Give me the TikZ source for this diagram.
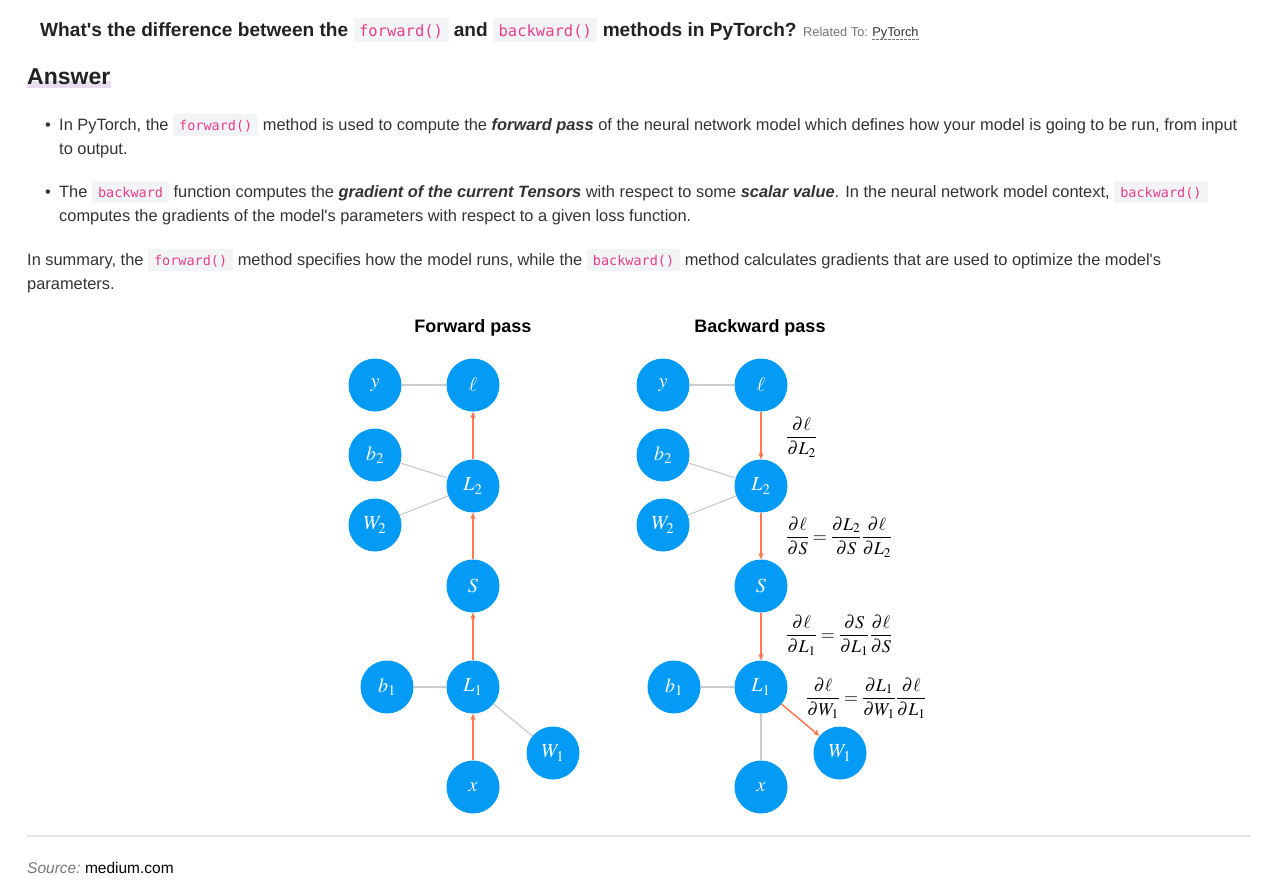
\documentclass[tikz,border=0pt]{standalone}
\usepackage{mathptmx}
\usepackage[no-math]{fontspec}
\setmainfont{Liberation Sans}
\newfontfamily\codefont{DejaVu Sans Mono}
\usetikzlibrary{arrows.meta}
\definecolor{codebg}{HTML}{F2F4F5}
\definecolor{codepink}{HTML}{E83E8C}
\definecolor{textc}{HTML}{333333}
\definecolor{titlec}{HTML}{222222}
\definecolor{relgray}{HTML}{777777}
\definecolor{nodeblue}{RGB}{3,155,245}
\definecolor{arrowc}{RGB}{255,122,82}
\definecolor{edgegray}{HTML}{CCCCCC}
\definecolor{sepgray}{HTML}{E4E4E4}
\definecolor{ansline}{HTML}{E9DCEF}
\newcommand\code[1]{{\setlength\fboxsep{0pt}\colorbox{codebg}{\rule[-5.5pt]{0pt}{22pt}\hspace{6pt}{\codefont\fontsize{13.5}{13.5}\selectfont\color{codepink}#1}\hspace{6pt}}}}
\newcommand\tcode[1]{{\setlength\fboxsep{0pt}\colorbox{codebg}{\rule[-6pt]{0pt}{24pt}\hspace{5.5pt}{\codefont\fontsize{15.5}{15.5}\selectfont\mdseries\color{codepink}#1}\hspace{5.5pt}}}}
\newcommand\bi[1]{\textbf{\textit{#1}}}
\begin{document}
\begin{tikzpicture}[x=1pt,y=-1pt,
  txt/.style={anchor=base west, inner sep=0pt, text=textc, font=\fontsize{16.4}{19}\selectfont},
  nd/.style={circle, fill=nodeblue, minimum size=53pt, inner sep=0pt, text=white, font=\fontsize{20}{20}\selectfont},
  link/.style={draw=edgegray, line width=1.2pt},
  flow/.style={draw=arrowc, line width=1.5pt, -{Stealth[length=6.5pt,width=5.5pt]}},
  eq/.style={anchor=west, inner sep=0pt, font=\fontsize{18}{18}\selectfont},
  ptitle/.style={anchor=base, inner sep=0pt, font=\fontsize{18}{18}\selectfont\bfseries, text=black}]
\useasboundingbox (0,0) rectangle (1278,892);
\fill[white] (0,0) rectangle (1278,892);

% heading
\node[anchor=base west, inner sep=0pt, text=titlec, font=\fontsize{19.1}{22}\selectfont\bfseries] (title) at (40,36)
  {What\textquotesingle s the difference between the \tcode{forward()} and \tcode{backward()} methods in PyTorch?};
\node[anchor=base west, inner sep=0pt, text=relgray, font=\fontsize{12.8}{14}\selectfont] (rel) at (803,36) {Related To:};
\node[anchor=base west, inner sep=0pt, text=textc, font=\fontsize{12.8}{14}\selectfont] (pyt) at ([xshift=4pt]rel.base east) {PyTorch};
\draw[relgray, dashed, dash pattern=on 2.5pt off 1.5pt, line width=0.8pt] ([yshift=-3.5pt]pyt.base west) -- ([yshift=-3.5pt]pyt.base east);

\fill[ansline] (27,81) rectangle (111,88);
\node[anchor=base west, inner sep=0pt, text=titlec, font=\fontsize{23}{26}\selectfont\bfseries] (answer) at (27,84) {Answer};

% bullets
\node[txt, anchor=base] (bul1) at (48,130) {•};
\node[txt] (p1a) at (59,130) {In PyTorch, the \code{forward()} method is used to compute the \bi{forward pass} of the neural network model which defines how your model is going to be run, from input};
\node[txt] (p1b) at (59,154) {to output.};
\node[txt, anchor=base] (bul2) at (48,197) {•};
\node[txt] (p2a) at (59,197) {The \code{backward} function computes the \bi{gradient of the current Tensors} with respect to some \bi{scalar value}. In the neural network model context, \code{backward()}};
\node[txt] (p2b) at (59,221) {computes the gradients of the model\textquotesingle s parameters with respect to a given loss function.};
\node[txt] (p3a) at (27,265) {In summary, the \code{forward()} method specifies how the model runs, while the \code{backward()} method calculates gradients that are used to optimize the model\textquotesingle s};
\node[txt] (p3b) at (27,289) {parameters.};

% diagram titles
\node[ptitle] (ftitle) at (473,332) {Forward pass};
\node[ptitle] (btitle) at (760,332) {Backward pass};

% forward pass nodes
\node[nd] (fy) at (375,385) {$y$};
\node[nd] (fl) at (473,385) {$\ell$};
\node[nd] (fb2) at (375,455) {$b_2$};
\node[nd] (fL2) at (473,486) {$L_2$};
\node[nd] (fW2) at (375,525) {$W_2$};
\node[nd] (fS) at (473,586) {$S$};
\node[nd] (fb1) at (387,687) {$b_1$};
\node[nd] (fL1) at (473,687) {$L_1$};
\node[nd] (fW1) at (553,753) {$W_1$};
\node[nd] (fx) at (473,787) {$x$};

\draw[link] (fy) -- (fl);
\draw[link] (fb2) -- (fL2);
\draw[link] (fW2) -- (fL2);
\draw[link] (fb1) -- (fL1);
\draw[link] (fL1) -- (fW1);
\draw[flow] (fL2) -- (fl);
\draw[flow] (fS) -- (fL2);
\draw[flow] (fL1) -- (fS);
\draw[flow] (fx) -- (fL1);

% backward pass nodes
\node[nd] (by) at (663,385) {$y$};
\node[nd] (bl) at (761,385) {$\ell$};
\node[nd] (bb2) at (663,455) {$b_2$};
\node[nd] (bL2) at (761,486) {$L_2$};
\node[nd] (bW2) at (663,525) {$W_2$};
\node[nd] (bS) at (761,586) {$S$};
\node[nd] (bb1) at (674,687) {$b_1$};
\node[nd] (bL1) at (761,687) {$L_1$};
\node[nd] (bW1) at (840,753) {$W_1$};
\node[nd] (bx) at (761,787) {$x$};

\draw[link] (by) -- (bl);
\draw[link] (bb2) -- (bL2);
\draw[link] (bW2) -- (bL2);
\draw[link] (bb1) -- (bL1);
\draw[link] (bL1) -- (bx);
\draw[flow] (bl) -- (bL2);
\draw[flow] (bL2) -- (bS);
\draw[flow] (bS) -- (bL1);
\draw[flow] (bL1) -- (bW1);

% gradient labels
\node[eq] (g1) at (786,437) {$\displaystyle\frac{\partial\ell}{\partial L_2}$};
\node[eq] (g2) at (786,537) {$\displaystyle\frac{\partial\ell}{\partial S}=\frac{\partial L_2}{\partial S}\frac{\partial\ell}{\partial L_2}$};
\node[eq] (g3) at (786,635) {$\displaystyle\frac{\partial\ell}{\partial L_1}=\frac{\partial S}{\partial L_1}\frac{\partial\ell}{\partial S}$};
\node[eq] (g4) at (806,698) {$\displaystyle\frac{\partial\ell}{\partial W_1}=\frac{\partial L_1}{\partial W_1}\frac{\partial\ell}{\partial L_1}$};

% footer
\draw[sepgray, line width=1.2pt] (27,836) -- (1250,836);
\node[anchor=base west, inner sep=0pt, text=relgray, font=\fontsize{15.5}{18}\selectfont\itshape] (src) at (27,873) {Source:};
\node[anchor=base west, inner sep=0pt, text=black, font=\fontsize{15.5}{18}\selectfont] (srcv) at ([xshift=4pt]src.base east) {medium.com};
\end{tikzpicture}
\end{document}
